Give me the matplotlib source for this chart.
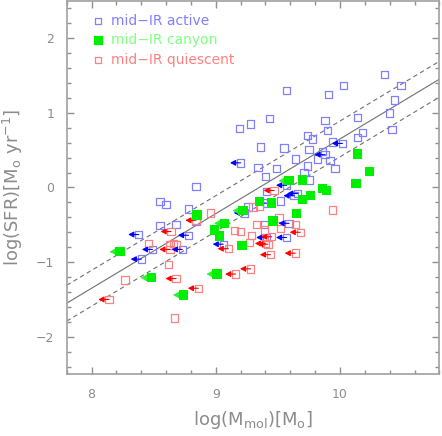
import matplotlib
matplotlib.use("Agg")
import matplotlib.pyplot as plt
import numpy as np
from matplotlib.ticker import MultipleLocator

plt.rcParams['font.family'] = ['DejaVu Sans']
plt.rcParams['mathtext.default'] = 'regular'

# ---- data: (log Mmol, log SFR) ----
active_x = [10.36, 10.49, 10.03, 9.57, 9.91, 10.44, 10.40, 9.43, 9.88, 10.14, 9.28, 9.19,
            9.90, 10.18, 10.42, 10.14, 9.74, 9.78, 9.36, 9.55, 9.75, 9.94, 9.86, 9.82,
            9.92, 9.64, 9.74, 9.34, 9.49, 9.96, 9.40, 9.71, 9.75, 8.84, 8.55, 8.60,
            8.78, 8.84, 8.55, 8.68, 9.26, 9.52, 9.41, 9.39]
active_y = [1.51, 1.37, 1.37, 1.30, 1.25, 1.17, 1.00, 0.92, 0.90, 0.94, 0.85, 0.79,
            0.76, 0.74, 0.78, 0.67, 0.70, 0.65, 0.54, 0.53, 0.51, 0.61, 0.48, 0.38,
            0.36, 0.38, 0.29, 0.27, 0.25, 0.25, 0.15, 0.20, 0.10, 0.01, -0.19, -0.23,
            -0.29, -0.45, -0.51, -0.50, -0.26, -0.18, -0.05, -0.50]
active_lim_x = [10.02, 9.88, 9.20, 9.57, 9.63, 9.66, 9.41, 9.23, 9.59, 9.41, 9.57,
                9.06, 8.38, 8.78, 8.49, 8.73, 8.40]
active_lim_y = [0.59, 0.44, 0.33, 0.03, -0.11, -0.08, -0.21, -0.34, -0.48, -0.67, -0.67,
                -0.76, -0.63, -0.64, -0.83, -0.83, -0.96]

canyon_x = [10.14, 10.24, 10.13, 9.70, 9.86, 9.89, 9.76, 9.70, 9.45, 9.35, 9.65,
            9.46, 8.99, 9.03, 9.21, 8.85]
canyon_y = [0.45, 0.21, 0.05, 0.10, -0.01, -0.04, -0.11, -0.16, -0.21, -0.19, -0.35,
            -0.45, -0.57, -0.65, -0.78, -0.37]
canyon_lim_x = [9.59, 9.22, 9.07, 8.23, 8.48, 9.01, 8.74]
canyon_lim_y = [0.09, -0.31, -0.48, -0.86, -1.21, -1.16, -1.44]

quiet_x = [8.96, 8.46, 8.63, 8.66, 8.68, 8.62, 8.27, 8.67, 9.15, 9.20, 9.27, 9.29,
           9.30, 9.35, 9.94, 9.51, 9.33, 9.64, 9.52, 9.39]
quiet_y = [-0.34, -0.75, -0.77, -0.75, -0.77, -1.03, -1.24, -1.75, -0.58, -0.59, -0.74,
           -0.64, -0.26, -0.25, -0.30, -0.41, -0.50, -0.50, -0.55, -0.57]
quiet_lim_x = [8.84, 8.64, 8.63, 8.68, 8.86, 8.14, 9.10, 9.16, 9.28, 9.47, 9.68, 9.45,
               9.40, 9.42, 9.44, 9.64]
quiet_lim_y = [-0.44, -0.59, -0.83, -1.22, -1.35, -1.50, -0.82, -1.16, -1.09, -0.04,
               -0.60, -0.66, -0.75, -0.76, -0.90, -0.88]

labels = ['mid\u2212IR active', 'mid\u2212IR canyon', 'mid\u2212IR quiescent']
fit_slope = 1.0
fit_icpt = -9.35
fit_scatter = 0.24

# ---- figure ----
fig = plt.figure(figsize=(4.42, 4.36), dpi=100)
ax = fig.add_axes([0.151, 0.142, 0.843, 0.856])
ax.set_xlim(7.8, 10.8)
ax.set_ylim(-2.5, 2.5)

gray = '#8c8c8c'
blue_sq, blue_ar = '#8080ff', '#0000ff'
green_sq, green_ar = '#00ee00', '#33ee33'
red_sq, red_ar = '#ff8080', '#ff0000'

# relation lines
xx = np.array(ax.get_xlim())
ax.plot(xx, fit_slope * xx + fit_icpt, color='#707070', lw=0.8, zorder=1)
for off in (fit_scatter, -fit_scatter):
    ax.plot(xx, fit_slope * xx + fit_icpt + off, color='#707070', lw=0.8,
            dashes=(4, 3), zorder=1)

arrow_len = 0.085

def arrows(xs, ys, col, hl=0.32, hw=0.17, z=3):
    for x, y in zip(xs, ys):
        ax.annotate('', xy=(x - arrow_len, y), xytext=(x, y),
                    arrowprops=dict(arrowstyle=f'-|>,head_length={hl},head_width={hw}',
                                    color=col, lw=0.8, shrinkA=0, shrinkB=0),
                    zorder=z)

# active
ax.scatter(active_x + active_lim_x, active_y + active_lim_y, marker='s', s=28,
           facecolors='none', edgecolors=blue_sq, linewidths=0.9, zorder=2)
arrows(active_lim_x, active_lim_y, blue_ar)
# quiescent
ax.scatter(quiet_x + quiet_lim_x, quiet_y + quiet_lim_y, marker='s', s=28,
           facecolors='none', edgecolors=red_sq, linewidths=0.9, zorder=2)
arrows(quiet_lim_x, quiet_lim_y, red_ar)
# canyon
ax.scatter(canyon_x + canyon_lim_x, canyon_y + canyon_lim_y, marker='s', s=45,
           color=green_sq, edgecolors='none', zorder=4)
arrows(canyon_lim_x, canyon_lim_y, green_ar, hl=0.45, hw=0.25, z=3.5)

# legend (manual)
leg_cols_m = [blue_sq, green_sq, red_sq]
leg_cols_t = ['#8080ff', '#80ff80', '#ff8080']
leg_fill = [False, True, False]
for i, (lab, cm, ct, f) in enumerate(zip(labels, leg_cols_m, leg_cols_t, leg_fill)):
    yy = 0.947 - i * 0.053
    ax.scatter([0.083], [yy], marker='s', s=28 if f else 20, transform=ax.transAxes,
               facecolors=cm if f else 'none', edgecolors=cm, linewidths=0.9)
    ax.text(0.118, yy, lab, transform=ax.transAxes, color=ct, fontsize=10,
            va='center', ha='left')

# axes styling
for sp in ax.spines.values():
    sp.set_color('#a0a0a0')
    sp.set_linewidth(1.2)
ax.xaxis.set_major_locator(MultipleLocator(1))
ax.xaxis.set_minor_locator(MultipleLocator(0.2))
ax.yaxis.set_major_locator(MultipleLocator(1))
ax.yaxis.set_minor_locator(MultipleLocator(0.2))
ax.tick_params(which='both', direction='in', top=True, right=True, color='#909090',
               labelcolor=gray, labelsize=9)
ax.tick_params(which='major', length=5, width=1)
ax.tick_params(which='minor', length=3, width=1)
ax.tick_params(axis='x', pad=10)
ax.tick_params(axis='y', pad=9)

ax.set_xlabel('log(M$_{mol}$)[M$_o$]', color=gray, fontsize=13, labelpad=6)
ax.set_ylabel('log(SFR)[M$_o$ yr$^{-1}$]', color=gray, fontsize=13, labelpad=8)

fig.savefig('out.png', dpi=100)
